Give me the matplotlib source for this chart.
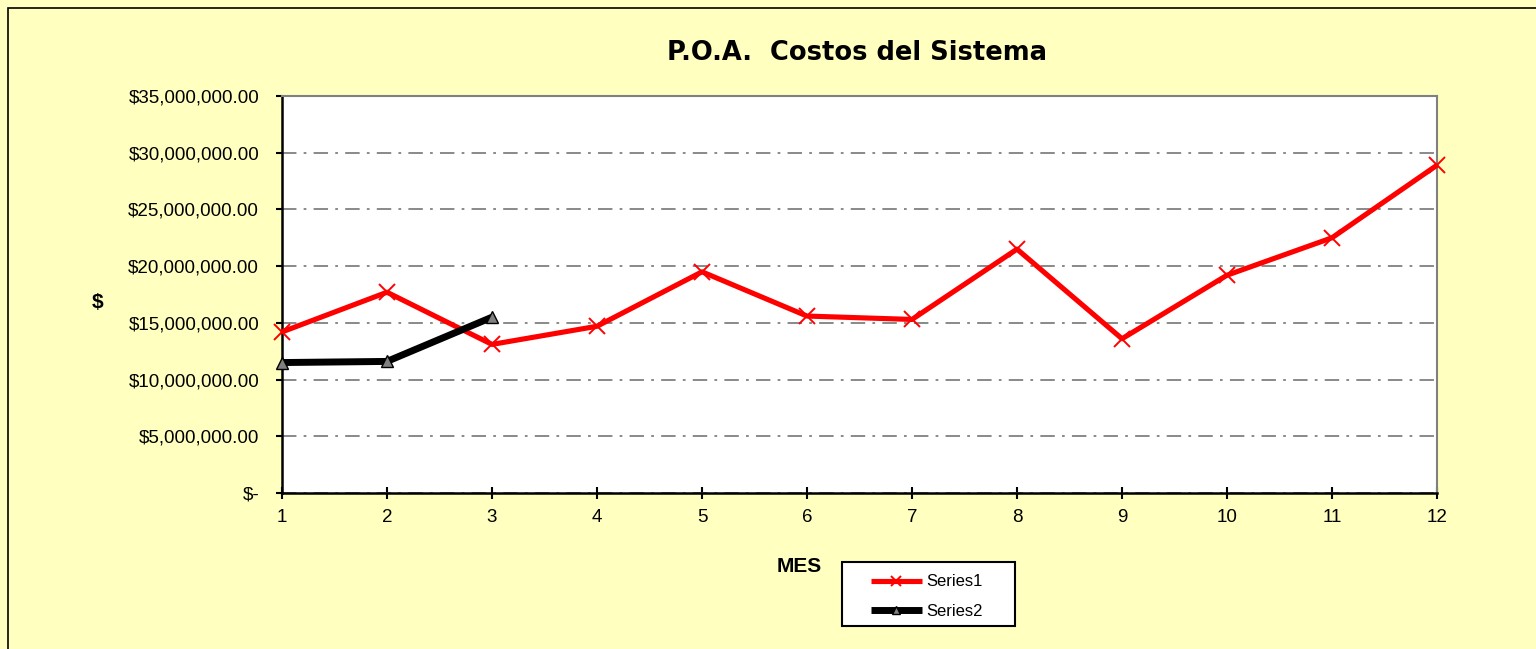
import matplotlib
matplotlib.use("Agg")
import matplotlib.pyplot as plt
import matplotlib.ticker as mticker
from matplotlib.patches import Rectangle

# Monthly costs
meses = [1, 2, 3, 4, 5, 6, 7, 8, 9, 10, 11, 12]
series1 = [14.2e6, 17.7e6, 13.1e6, 14.7e6, 19.5e6, 15.6e6, 15.3e6,
           21.5e6, 13.6e6, 19.2e6, 22.5e6, 28.9e6]
meses2 = [1, 2, 3]
series2 = [11.5e6, 11.6e6, 15.5e6]

bg = "#FFFFC0"
plt.rcParams["font.family"] = ["Liberation Sans", "DejaVu Sans"]

W, H = 1536, 649
fig = plt.figure(figsize=(W / 100, H / 100), dpi=100, facecolor=bg)
ax = fig.add_axes([282 / W, 1 - 493 / H, (1437 - 282) / W, (493 - 96) / H])
ax.set_facecolor("white")

# outer chart border (only left/top visible in the original)
fig.patches.append(Rectangle((8 / W, -0.1), 1.2, 1.1 - 8 / H,
                             transform=fig.transFigure, fill=False,
                             edgecolor="black", linewidth=1.2, zorder=-2))

ax.plot(meses, series1, color="red", lw=3.7, marker="x", markersize=11,
        markeredgewidth=1.4, markeredgecolor="red", label="Series1", zorder=3,
        solid_capstyle="butt", clip_on=False)
ax.plot(meses2, series2, color="black", lw=5, marker="^", markersize=9,
        markerfacecolor="#808080", markeredgecolor="black", markeredgewidth=1,
        label="Series2", zorder=4, solid_capstyle="butt", clip_on=False)

ax.set_xlim(1, 12)
ax.set_ylim(0, 35e6)
ax.set_xticks(meses)
ax.set_yticks(range(0, 35_000_001, 5_000_000))


def money(v, pos):
    if v == 0:
        return "$-"
    return f"${v:,.2f}"


ax.yaxis.set_major_formatter(mticker.FuncFormatter(money))
ax.tick_params(axis="y", direction="out", length=4.5, width=1.5, labelsize=13.5, pad=12)
ax.tick_params(axis="x", direction="inout", length=8, width=1.5, labelsize=13.5, pad=7.5)

ax.grid(True, axis="y", color="#808080", linestyle=(0, (8, 4, 1.5, 4)), linewidth=1.3)
ax.set_axisbelow(True)

for side in ["left", "bottom"]:
    ax.spines[side].set_color("black")
    ax.spines[side].set_linewidth(1.8)
for side in ["right", "top"]:
    ax.spines[side].set_color("#808080")
    ax.spines[side].set_linewidth(1.5)

fig.text(857 / W, 1 - 53 / H, "P.O.A.  Costos del Sistema", ha="center", va="center",
         fontsize=18.5, fontweight="bold", family="DejaVu Sans")
fig.text(98 / W, 1 - 303 / H, "$", ha="center", va="center", fontsize=15, fontweight="bold")
fig.text(799 / W, 1 - 566 / H, "MES", ha="center", va="center", fontsize=15, fontweight="bold")

# legend box drawn separately (behind the axes) so it can have the wide side margins
fig.patches.append(Rectangle((842 / W, 1 - 626 / H), (1015 - 842) / W, (626 - 562) / H,
                             transform=fig.transFigure, facecolor="white",
                             edgecolor="black", linewidth=1.5, zorder=-1))
leg = ax.legend(loc="upper left", bbox_to_anchor=(858 / W, 1 - 562 / H),
                bbox_transform=fig.transFigure, fontsize=12, frameon=False,
                handlelength=3.1, handletextpad=0.25, borderpad=0.75,
                labelspacing=0.85, borderaxespad=0, markerscale=0.6)

fig.savefig("out.png", dpi=100, facecolor=bg)
